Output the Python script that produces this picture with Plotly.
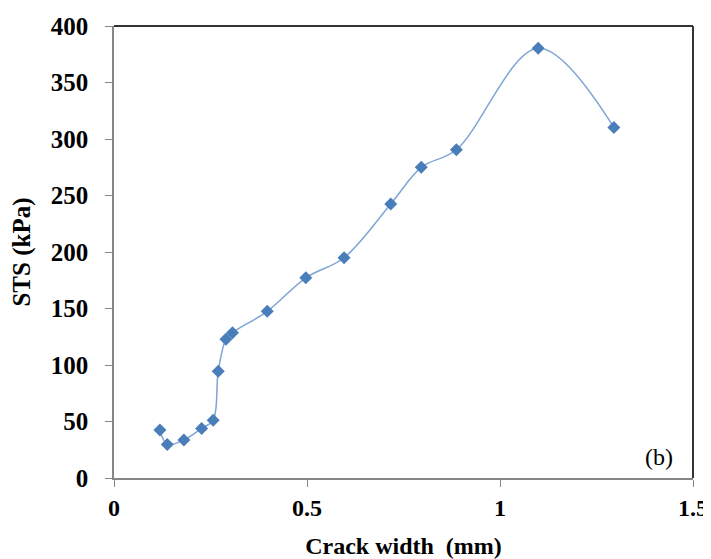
import plotly.graph_objects as go

crack_width = [0.119, 0.138, 0.181, 0.227, 0.257, 0.270, 0.290, 0.307, 0.397,
               0.497, 0.596, 0.717, 0.796, 0.887, 1.099, 1.295]
sts = [42.4, 29.7, 33.6, 43.9, 51.2, 94.5, 122.7, 128.6, 147.5,
       177.2, 194.9, 242.5, 274.9, 290.5, 380.3, 310.2]

x_ticks = [0, 0.5, 1, 1.5]
x_tick_labels = ["0", "0.5", "1", "1.5"]
y_ticks = [0, 50, 100, 150, 200, 250, 300, 350, 400]

blue = "#4A7EBB"
font_family = "Liberation Serif, Times New Roman, serif"

fig = go.Figure()
fig.add_trace(go.Scatter(
    x=crack_width, y=sts, mode="lines+markers",
    line=dict(color="#7FA4D4", width=1.5, shape="spline", smoothing=1.0),
    marker=dict(symbol="diamond", size=10, color=blue, line=dict(width=0)),
    showlegend=False, hoverinfo="x+y",
))

fig.update_layout(
    width=703, height=551,
    margin=dict(l=106, r=18, t=18, b=81),
    paper_bgcolor="white", plot_bgcolor="white",
    font=dict(family=font_family, color="black"),
    xaxis=dict(
        range=[0, 1.5], tickvals=x_ticks, ticktext=x_tick_labels,
        showgrid=False, zeroline=False, showline=True, linecolor="#868686", linewidth=1.5,
        ticks="outside", ticklen=7, tickcolor="#868686", tickwidth=1,
        tickfont=dict(size=24, family=font_family, weight="bold"),
        ticklabelstandoff=0, automargin=False,
        title=dict(text="<b>Crack width  (mm)</b>", font=dict(size=24, family=font_family), standoff=21),
    ),
    yaxis=dict(
        range=[0, 400], tickvals=y_ticks,
        showgrid=False, zeroline=False, showline=True, linecolor="#868686", linewidth=1.5,
        ticks="outside", ticklen=7, tickcolor="#868686", tickwidth=1,
        tickfont=dict(size=25, family=font_family, weight="bold"),
        ticklabelstandoff=12, automargin=False,
        title=dict(text="<b>STS (kPa)</b>", font=dict(size=25, family=font_family), standoff=14),
    ),
    shapes=[
        dict(type="line", xref="paper", yref="paper", x0=0, y0=1, x1=1, y1=1,
             line=dict(color="#333333", width=2)),
        dict(type="line", xref="paper", yref="paper", x0=1, y0=0, x1=1, y1=1,
             line=dict(color="#333333", width=2)),
    ],
    annotations=[
        dict(text="(b)", xref="paper", yref="paper", x=0.942, y=0.047,
             xanchor="center", yanchor="middle", showarrow=False,
             font=dict(size=24, family=font_family, color="black")),
    ],
)

fig.write_html("out.html")
